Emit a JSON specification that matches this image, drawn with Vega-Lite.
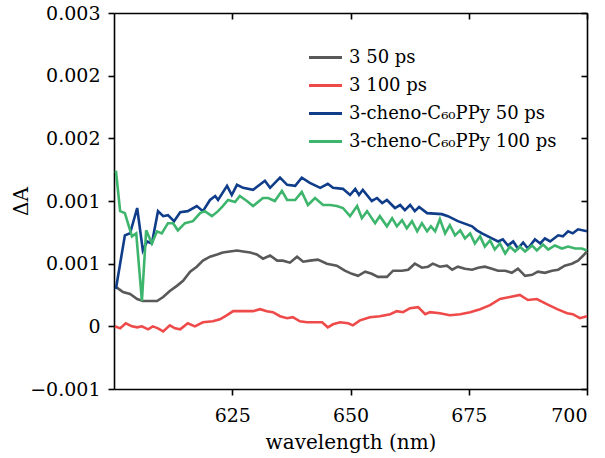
{
  "$schema": "https://vega.github.io/schema/vega-lite/v6.json",
  "width": 473,
  "height": 376,
  "autosize": "none",
  "padding": {"left": 114, "top": 13, "right": 18, "bottom": 69},
  "background": "white",
  "config": {
    "font": "DejaVu Serif",
    "view": {"stroke": null},
    "axis": {
      "domainColor": "black",
      "domainWidth": 1.6,
      "tickColor": "black",
      "tickWidth": 1.6,
      "tickSize": 6,
      "grid": false,
      "labelFont": "DejaVu Serif",
      "labelFontSize": 19,
      "labelColor": "black",
      "titleFont": "DejaVu Serif",
      "titleFontSize": 20,
      "titleFontWeight": "normal",
      "titleColor": "black"
    },
    "legend": {
      "labelFont": "DejaVu Serif",
      "labelFontSize": 18,
      "labelColor": "black",
      "labelLimit": 400
    }
  },
  "resolve": {"axis": {"x": "independent", "y": "independent"}},
  "layer": [
    {
      "data": {"values": [
        {"x":600.4,"y":0.000315},{"x":700,"y":0.000597}
      ]},
      "mark": {"type": "line", "strokeWidth": 2.6, "opacity": 0},
      "encoding": {
        "x": {"field": "x", "type": "quantitative", "scale": {"domain": [600, 700], "nice": false, "zero": false},
              "axis": {"orient": "top", "values": [625, 650, 675, 700], "labels": false, "title": null, "tickSize": -6}},
        "y": {"field": "y", "type": "quantitative", "scale": {"domain": [-0.0005, 0.0025], "nice": false, "zero": false},
              "axis": {"orient": "right", "values": [-0.0005, 0, 0.0005, 0.001, 0.0015, 0.002, 0.0025], "labels": false, "title": null, "tickSize": -6}}
      }
    },
    {
      "data": {"values": [
        {"x":600.4,"y":0.000315},{"x":601.9,"y":0.000274},{"x":603.4,"y":0.000258},{"x":604.9,"y":0.000218},{"x":606.1,"y":0.000202},{"x":607.6,"y":0.000202},{"x":609.1,"y":0.000202},{"x":610.4,"y":0.000234},{"x":611.8,"y":0.000282},{"x":613.3,"y":0.000323},{"x":614.6,"y":0.000363},{"x":616.1,"y":0.000436},{"x":617.5,"y":0.000476},{"x":618.8,"y":0.000524},{"x":620.3,"y":0.000556},{"x":621.8,"y":0.000573},{"x":623.0,"y":0.000589},{"x":624.5,"y":0.000597},{"x":626.0,"y":0.000605},{"x":627.3,"y":0.000597},{"x":628.8,"y":0.000589},{"x":630.2,"y":0.000573},{"x":631.5,"y":0.00054},{"x":633.0,"y":0.000565},{"x":634.5,"y":0.000524},{"x":635.7,"y":0.000524},{"x":637.2,"y":0.000508},{"x":638.7,"y":0.000556},{"x":640.0,"y":0.000516},{"x":641.4,"y":0.000524},{"x":643.1,"y":0.000532},{"x":645.0,"y":0.0005},{"x":647.1,"y":0.000484},{"x":648.8,"y":0.000444},{"x":650.3,"y":0.000419},{"x":651.6,"y":0.000403},{"x":653.1,"y":0.000436},{"x":654.5,"y":0.000419},{"x":655.8,"y":0.000395},{"x":657.7,"y":0.000395},{"x":659.0,"y":0.000444},{"x":660.9,"y":0.000444},{"x":662.2,"y":0.000452},{"x":663.6,"y":0.0005},{"x":665.1,"y":0.000468},{"x":666.4,"y":0.000476},{"x":667.4,"y":0.0005},{"x":668.9,"y":0.000476},{"x":670.4,"y":0.000484},{"x":671.5,"y":0.000452},{"x":672.7,"y":0.000476},{"x":674.2,"y":0.00046},{"x":675.7,"y":0.000452},{"x":677.0,"y":0.000468},{"x":678.4,"y":0.000476},{"x":679.9,"y":0.00046},{"x":681.2,"y":0.000444},{"x":682.7,"y":0.000444},{"x":684.1,"y":0.000427},{"x":685.4,"y":0.00046},{"x":686.9,"y":0.000403},{"x":688.4,"y":0.000411},{"x":689.6,"y":0.000436},{"x":691.1,"y":0.000427},{"x":692.6,"y":0.000444},{"x":693.9,"y":0.000452},{"x":695.3,"y":0.000484},{"x":696.8,"y":0.0005},{"x":698.1,"y":0.000524},{"x":699.2,"y":0.000565},{"x":700,"y":0.000597}
      ]},
      "mark": {"type": "line", "strokeWidth": 2.6},
      "encoding": {
        "x": {"field": "x", "type": "quantitative", "scale": {"domain": [600, 700], "nice": false, "zero": false},
              "axis": {"values": [625, 650, 675, 700], "title": "wavelength (nm)", "labelPadding": 11, "titleY": 59, "titleBaseline": "alphabetic"}},
        "y": {"field": "y", "type": "quantitative", "scale": {"domain": [-0.0005, 0.0025], "nice": false, "zero": false},
              "axis": {"values": [-0.0005, 0, 0.0005, 0.001, 0.0015, 0.002, 0.0025], "labelExpr": "datum.value == 0 ? '0' : format(datum.value, '.3f')", "labelPadding": 8, "title": "ΔA", "titleX": -93, "titleY": 188, "titleBaseline": "middle", "titleAngle": -90}},
        "color": {"datum": "3 50 ps", "type": "nominal",
                  "scale": {"domain": ["3 50 ps", "3 100 ps", "3-cheno-C₆₀PPy 50 ps", "3-cheno-C₆₀PPy 100 ps"], "range": ["#595959", "#ef4a4a", "#0f3d8a", "#3db56c"]},
                  "legend": {"title": null, "orient": "none", "legendX": 193, "legendY": 26, "symbolType": "stroke", "symbolSize": 1089, "symbolStrokeWidth": 3.2, "labelOffset": 5, "rowPadding": -4, "padding": 0}}
      }
    },
    {
      "data": {"values": [
        {"x":600.2,"y":0},{"x":601.3,"y":-0.000016},{"x":602.5,"y":0.000024},{"x":603.8,"y":0},{"x":604.9,"y":-0.000008},{"x":605.9,"y":0},{"x":607.2,"y":-0.000024},{"x":608.2,"y":0},{"x":609.3,"y":-0.000016},{"x":610.4,"y":-0.00004},{"x":611.8,"y":0.000008},{"x":612.9,"y":-0.000016},{"x":614.0,"y":-0.000024},{"x":615.6,"y":0.000024},{"x":617.1,"y":0},{"x":618.8,"y":0.000032},{"x":620.9,"y":0.00004},{"x":622.4,"y":0.000056},{"x":623.9,"y":0.000089},{"x":625.2,"y":0.000121},{"x":628.1,"y":0.000121},{"x":629.4,"y":0.000121},{"x":630.9,"y":0.000137},{"x":632.3,"y":0.000121},{"x":633.6,"y":0.000113},{"x":635.1,"y":0.000081},{"x":636.6,"y":0.000065},{"x":637.8,"y":0.000073},{"x":639.3,"y":0.00004},{"x":640.8,"y":0.000032},{"x":642.1,"y":0.000032},{"x":644.0,"y":0.000032},{"x":645.2,"y":-0.000008},{"x":646.3,"y":0.000016},{"x":647.8,"y":0.000032},{"x":649.5,"y":0.000024},{"x":650.5,"y":0.000008},{"x":652.0,"y":0.000048},{"x":654.1,"y":0.000073},{"x":656.2,"y":0.000081},{"x":658.4,"y":0.000097},{"x":659.8,"y":0.000121},{"x":661.1,"y":0.000113},{"x":662.6,"y":0.000145},{"x":664.3,"y":0.000153},{"x":665.8,"y":0.000097},{"x":666.8,"y":0.000113},{"x":668.9,"y":0.000105},{"x":671.0,"y":0.000089},{"x":673.2,"y":0.000097},{"x":675.3,"y":0.000113},{"x":677.4,"y":0.000137},{"x":679.5,"y":0.000169},{"x":681.6,"y":0.000218},{"x":683.7,"y":0.000234},{"x":685.8,"y":0.00025},{"x":687.5,"y":0.00021},{"x":689.4,"y":0.000218},{"x":691.5,"y":0.000177},{"x":693.7,"y":0.000137},{"x":695.8,"y":0.000105},{"x":697.0,"y":0.000097},{"x":698.5,"y":0.000065},{"x":700,"y":0.000081}
      ]},
      "mark": {"type": "line", "strokeWidth": 2.6},
      "encoding": {
        "x": {"field": "x", "type": "quantitative", "scale": {"domain": [600, 700], "nice": false, "zero": false}, "axis": null},
        "y": {"field": "y", "type": "quantitative", "scale": {"domain": [-0.0005, 0.0025], "nice": false, "zero": false}, "axis": null},
        "color": {"datum": "3 100 ps", "type": "nominal"}
      }
    },
    {
      "data": {"values": [
        {"x":600.4,"y":0.000298},{"x":602.3,"y":0.000726},{"x":603.4,"y":0.000742},{"x":604.9,"y":0.000944},{"x":606.1,"y":0.000605},{"x":607.0,"y":0.000677},{"x":608.0,"y":0.000661},{"x":609.3,"y":0.000919},{"x":610.4,"y":0.000879},{"x":611.4,"y":0.000887},{"x":612.7,"y":0.000839},{"x":614.0,"y":0.000911},{"x":615.6,"y":0.000919},{"x":617.5,"y":0.00096},{"x":618.8,"y":0.000919},{"x":620.3,"y":0.001008},{"x":621.4,"y":0.00104},{"x":622.0,"y":0.001008},{"x":623.9,"y":0.001121},{"x":624.9,"y":0.001048},{"x":626.0,"y":0.001129},{"x":627.3,"y":0.001105},{"x":629.4,"y":0.001089},{"x":631.9,"y":0.001161},{"x":633.0,"y":0.001105},{"x":635.1,"y":0.001186},{"x":636.6,"y":0.001129},{"x":638.3,"y":0.001121},{"x":639.7,"y":0.001186},{"x":641.4,"y":0.001145},{"x":643.6,"y":0.001105},{"x":645.2,"y":0.001137},{"x":646.3,"y":0.001105},{"x":648.4,"y":0.001097},{"x":649.9,"y":0.001048},{"x":651.0,"y":0.001097},{"x":651.8,"y":0.001048},{"x":652.6,"y":0.001089},{"x":654.5,"y":0.001},{"x":655.6,"y":0.001024},{"x":656.7,"y":0.000984},{"x":657.7,"y":0.001008},{"x":659.4,"y":0.000944},{"x":660.5,"y":0.000968},{"x":661.5,"y":0.000927},{"x":662.6,"y":0.000968},{"x":663.6,"y":0.000919},{"x":664.5,"y":0.000952},{"x":666.2,"y":0.000903},{"x":669.3,"y":0.000895},{"x":670.6,"y":0.000879},{"x":672.7,"y":0.000839},{"x":675.7,"y":0.000798},{"x":676.7,"y":0.000766},{"x":677.8,"y":0.000742},{"x":679.9,"y":0.000702},{"x":681.2,"y":0.000677},{"x":682.2,"y":0.000694},{"x":683.3,"y":0.000645},{"x":684.4,"y":0.000677},{"x":685.4,"y":0.000621},{"x":686.5,"y":0.000669},{"x":687.5,"y":0.000621},{"x":689.0,"y":0.000694},{"x":690.1,"y":0.000661},{"x":691.1,"y":0.000702},{"x":692.2,"y":0.000677},{"x":693.9,"y":0.000726},{"x":694.9,"y":0.000718},{"x":696.0,"y":0.000758},{"x":697.0,"y":0.000742},{"x":698.1,"y":0.000774},{"x":700,"y":0.000758}
      ]},
      "mark": {"type": "line", "strokeWidth": 2.6},
      "encoding": {
        "x": {"field": "x", "type": "quantitative", "scale": {"domain": [600, 700], "nice": false, "zero": false}, "axis": null},
        "y": {"field": "y", "type": "quantitative", "scale": {"domain": [-0.0005, 0.0025], "nice": false, "zero": false}, "axis": null},
        "color": {"datum": "3-cheno-C₆₀PPy 50 ps", "type": "nominal"}
      }
    },
    {
      "data": {"values": [
        {"x":600.4,"y":0.001242},{"x":601.3,"y":0.000919},{"x":602.3,"y":0.000903},{"x":603.8,"y":0.000718},{"x":604.7,"y":0.000742},{"x":605.9,"y":0.000202},{"x":606.8,"y":0.000766},{"x":608.0,"y":0.000661},{"x":609.1,"y":0.000758},{"x":610.1,"y":0.000742},{"x":611.4,"y":0.000823},{"x":612.5,"y":0.000823},{"x":613.5,"y":0.000766},{"x":615.0,"y":0.000823},{"x":616.7,"y":0.000839},{"x":618.2,"y":0.000903},{"x":619.2,"y":0.000919},{"x":620.7,"y":0.000879},{"x":622.0,"y":0.000919},{"x":623.0,"y":0.00096},{"x":624.1,"y":0.001008},{"x":625.6,"y":0.000992},{"x":626.6,"y":0.00104},{"x":628.1,"y":0.001},{"x":629.4,"y":0.00096},{"x":631.5,"y":0.001024},{"x":632.6,"y":0.001024},{"x":634.0,"y":0.001},{"x":635.5,"y":0.001081},{"x":636.6,"y":0.001008},{"x":638.3,"y":0.001008},{"x":639.7,"y":0.001073},{"x":641.0,"y":0.000968},{"x":642.5,"y":0.001024},{"x":644.2,"y":0.000968},{"x":645.7,"y":0.000968},{"x":647.1,"y":0.00096},{"x":648.4,"y":0.000944},{"x":649.9,"y":0.000879},{"x":651.4,"y":0.00096},{"x":652.4,"y":0.000863},{"x":653.5,"y":0.000919},{"x":655.2,"y":0.000823},{"x":656.2,"y":0.000879},{"x":657.7,"y":0.000798},{"x":658.8,"y":0.000863},{"x":659.8,"y":0.000798},{"x":660.9,"y":0.000847},{"x":661.9,"y":0.000782},{"x":663.0,"y":0.000839},{"x":664.1,"y":0.000758},{"x":665.1,"y":0.000823},{"x":666.2,"y":0.000758},{"x":667.0,"y":0.000798},{"x":667.9,"y":0.000758},{"x":668.9,"y":0.000855},{"x":670.0,"y":0.000742},{"x":671.0,"y":0.000807},{"x":672.1,"y":0.000726},{"x":673.2,"y":0.000766},{"x":674.2,"y":0.000702},{"x":675.3,"y":0.000742},{"x":676.3,"y":0.000661},{"x":677.4,"y":0.000718},{"x":678.4,"y":0.000637},{"x":679.5,"y":0.000686},{"x":680.5,"y":0.000613},{"x":681.6,"y":0.000661},{"x":682.7,"y":0.000581},{"x":683.7,"y":0.000637},{"x":684.8,"y":0.000597},{"x":685.8,"y":0.000637},{"x":686.9,"y":0.000597},{"x":688.4,"y":0.000645},{"x":689.4,"y":0.000605},{"x":690.7,"y":0.000653},{"x":691.8,"y":0.000613},{"x":693.2,"y":0.000645},{"x":694.7,"y":0.000621},{"x":696.0,"y":0.000637},{"x":697.5,"y":0.000621},{"x":698.9,"y":0.000621},{"x":700,"y":0.000605}
      ]},
      "mark": {"type": "line", "strokeWidth": 2.6},
      "encoding": {
        "x": {"field": "x", "type": "quantitative", "scale": {"domain": [600, 700], "nice": false, "zero": false}, "axis": null},
        "y": {"field": "y", "type": "quantitative", "scale": {"domain": [-0.0005, 0.0025], "nice": false, "zero": false}, "axis": null},
        "color": {"datum": "3-cheno-C₆₀PPy 100 ps", "type": "nominal"}
      }
    }
  ]
}
